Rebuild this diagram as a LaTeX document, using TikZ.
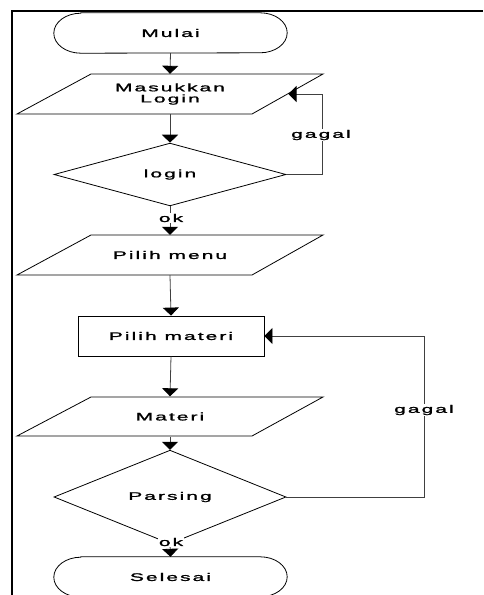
\documentclass[tikz,border=0pt]{standalone}
\usepackage{fontspec}
\setmainfont{Liberation Sans}
\newfontfamily\widefont[LetterSpace=10,FakeBold=1.2]{Liberation Sans}
\usetikzlibrary{shapes.geometric,arrows.meta}
\newcommand{\wt}[1]{\scalebox{1.9}[1]{#1}}
\begin{document}
\begin{tikzpicture}[x=1pt,y=-1pt,
  every node/.style={font=\widefont\fontsize{11pt}{11.6pt}\selectfont, align=center, inner sep=0pt},
  term/.style={minimum width=233pt, minimum height=40pt},
  procbox/.style={draw=black, line width=0.8pt, minimum width=186pt, minimum height=40pt},
  iobox/.style={minimum width=160pt, minimum height=40pt},
  decis/.style={draw=black, line width=0.8pt, diamond, minimum width=232pt, minimum height=59pt},
  lbl/.style={fill=white, inner sep=1pt},
  conn/.style={draw=black!75, line width=0.8pt, -{Triangle[width=16pt,length=8pt,color=black]}},
  para/.style={draw=black, line width=0.8pt}
]
\useasboundingbox (0,0) rectangle (483,595);
% frame
\draw[line width=2pt] (12,595) -- (12,10.5) -- (483,10.5);

% nodes
\node[term] (start) at (170.5,33) {\wt{Mulai}};
\draw[para] (start.north west) ++(27,0) -- ([xshift=-27pt]start.north east) arc[start angle=90,end angle=-90,x radius=27pt,y radius=20pt] -- ([xshift=27pt]start.south west) arc[start angle=270,end angle=90,x radius=27pt,y radius=20pt] -- cycle;
\node[iobox] (login) at (170,94) {\wt{Masukkan}\\[-0.5pt]\wt{Login}};
\draw[para] (91,74) -- (323,74) -- (252,114) -- (17,114) -- cycle;
\node[decis] (cek) at (170,174.5) {\wt{login}};
\node[iobox] (menu) at (170,255) {\wt{Pilih menu}};
\draw[para] (91,235) -- (323,235) -- (252,275) -- (17,275) -- cycle;
\node[procbox] (materi) at (171,336) {\wt{Pilih materi}};
\node[iobox] (mat) at (170,416.5) {\wt{Materi}};
\draw[para] (91,397) -- (323,397) -- (252,436) -- (17,436) -- cycle;
\node[decis] (parse) at (170,497) {\wt{Parsing}};
\node[term] (end) at (170.5,577) {\wt{Selesai}};
\draw[para] (end.north west) ++(27,0) -- ([xshift=-27pt]end.north east) arc[start angle=90,end angle=-90,x radius=27pt,y radius=20pt] -- ([xshift=27pt]end.south west) arc[start angle=270,end angle=90,x radius=27pt,y radius=20pt] -- cycle;

\coordinate (loginR) at (288.5,94);
\coordinate (g1) at (322,174.5);
\coordinate (g1t) at (322,94);
\coordinate (g2) at (424,497);
\coordinate (g2t) at (424,336);

% connectors
\draw[conn] (start.south) -- (login.north);
\draw[conn] (login.south) -- (cek.north);
\draw[conn] (cek.south) -- (menu.north);
\draw[conn] (menu.south) -- (materi.north);
\draw[conn] (materi.south) -- (mat.north);
\draw[conn] (mat.south) -- (parse.north);
\draw[conn] (parse.south) -- (end.north);
\draw[conn] (cek.east) -- (g1) -- (g1t) -- (loginR);
\draw[conn] (parse.east) -- (g2) -- (g2t) -- (materi.east);

% labels
\node[lbl] (ok1) at (171,218) {\wt{ok}};
\node[lbl] (ok2) at (171,542) {\wt{ok}};
\node[lbl] (gg1) at (321,135) {\wt{gagal}};
\node[lbl] (gg2) at (424,410) {\wt{gagal}};
\end{tikzpicture}
\end{document}
